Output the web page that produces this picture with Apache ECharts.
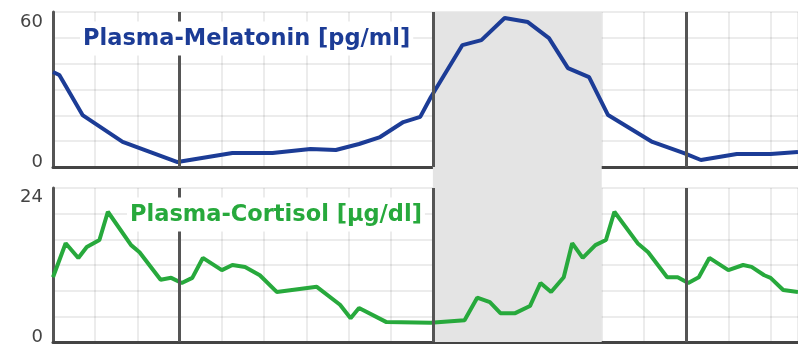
<!DOCTYPE html>
<html>
<head>
<meta charset="utf-8">
<style>html,body{margin:0;padding:0;background:#fff;}#c{width:798px;height:348px;}</style>
<script src="https://cdn.jsdelivr.net/npm/echarts@6/dist/echarts.min.js"></script>
</head>
<body>
<div id="c"></div>
<script>
// ---- data ----
const melTitle = 'Plasma-Melatonin [pg/ml]';
const corTitle = 'Plasma-Cortisol [µg/dl]';
// hours from start of chart
const melHours = [0, 0.3, 1.4, 3.3, 5.9, 8.5, 10.4, 12.2, 13.4, 14.5, 15.5, 16.6, 17.4, 17.9, 19.4, 20.3, 21.4, 22.5, 23.5, 24.4, 25.4, 26.3, 28.4, 29.9, 30.7, 32.4, 34.0, 35.3];
const melValues = [36.8, 35.6, 20.1, 9.7, 1.9, 5.4, 5.4, 7.0, 6.6, 8.9, 11.6, 17.4, 19.4, 27, 47.2, 49.1, 57.7, 56.1, 49.9, 38.3, 34.8, 20.1, 9.7, 5.4, 2.7, 5.0, 5.0, 5.8];
const corHours = [0, 0.6, 1.2, 1.6, 2.2, 2.6, 3.7, 4.1, 5.1, 5.6, 6.1, 6.6, 7.1, 8.0, 8.5, 9.1, 9.8, 10.6, 12.5, 13.6, 14.1, 14.5, 15.8, 17.9, 19.5, 20.1, 20.7, 21.2, 21.9, 22.6, 23.1, 23.6, 24.2, 24.6, 25.1, 25.7, 26.2, 26.6, 27.7, 28.2, 29.1, 29.6, 30.1, 30.6, 31.1, 32.0, 32.7, 33.1, 33.7, 34.0, 34.6, 35.3];
const corValues = [10.1, 15.4, 13.1, 14.8, 15.9, 20.3, 15.1, 14.0, 9.7, 10.0, 9.2, 10.0, 13.1, 11.2, 12.0, 11.7, 10.4, 7.8, 8.6, 5.8, 3.7, 5.3, 3.1, 3.0, 3.4, 6.9, 6.2, 4.5, 4.5, 5.6, 9.2, 7.8, 10.1, 15.4, 13.1, 15.1, 15.9, 20.3, 15.4, 14.0, 10.1, 10.1, 9.2, 10.1, 13.1, 11.2, 12.0, 11.7, 10.4, 10.0, 8.1, 7.8];
const dayMarks = [6, 18, 30];      // thick vertical lines (hours)
const sleepPeriod = [18, 26];      // shaded band (hours)
const melTicks = [0, 60];
const corTicks = [0, 24];
const xMax = 35.3;

const pair = (xs, ys) => xs.map((x, i) => [x, ys[i]]);

const BLUE = '#1c3c96', GREEN = '#27a93c';
const gridLine = { show: true, lineStyle: { color: 'rgba(0,0,0,0.075)', width: 2 } };

function xAx(gi, showLine) {
  return {
    type: 'value', gridIndex: gi, min: 0, max: xMax, interval: 2,
    axisLine: { show: showLine, onZero: false, lineStyle: { color: '#444', width: 3 } },
    axisTick: { show: false }, axisLabel: { show: false },
    splitLine: showLine ? gridLine : { show: false }
  };
}
function yAx(gi, max, interval, ticks, topPad, show) {
  return {
    type: 'value', gridIndex: gi, min: 0, max: max, interval: interval, show: show,
    axisLine: { show: true, lineStyle: { color: '#555', width: 3 } },
    axisTick: { show: false },
    axisLabel: {
      margin: 10, color: '#444', fontFamily: 'DejaVu Sans', fontSize: 18,
      formatter: v => v === ticks[1] ? '{t|' + v + '}' : (v === ticks[0] ? '{b|' + v + '}' : ''),
      rich: {
        t: { padding: [topPad, 0, 0, 0], fontFamily: 'DejaVu Sans', fontSize: 18, color: '#444' },
        b: { padding: [0, 0, 10, 0], fontFamily: 'DejaVu Sans', fontSize: 18, color: '#444' }
      }
    },
    splitLine: gridLine
  };
}
const thick = gi => ({
  silent: true, symbol: 'none', label: { show: false },
  lineStyle: { color: '#555', width: 3, type: 'solid' },
  data: dayMarks.map(h => ({ xAxis: h }))
});

const option = {
  animation: false,
  backgroundColor: '#fff',
  title: [
    { text: melTitle, left: 80, top: 22, padding: [6, 3, 5, 3], backgroundColor: '#fff',
      textStyle: { color: BLUE, fontFamily: 'DejaVu Sans', fontWeight: 'bold', fontSize: 22.5, lineHeight: 22 } },
    { text: corTitle, left: 127, top: 198, padding: [6, 3, 5, 3], backgroundColor: '#fff',
      textStyle: { color: GREEN, fontFamily: 'DejaVu Sans', fontWeight: 'bold', fontSize: 22.5, lineHeight: 22 } }
  ],
  grid: [
    { left: 53, right: 0, top: 12, height: 155 },
    { left: 53, right: 0, top: 188, height: 154 },
    { left: 53, right: 0, top: 12, bottom: 6 }
  ],
  xAxis: [xAx(0, true), xAx(1, true), xAx(2, false)],
  yAxis: [yAx(0, 60, 10, melTicks, 20, true), yAx(1, 24, 4, corTicks, 18, true),
          { type: 'value', gridIndex: 2, min: 0, max: 1, show: false, splitLine: { show: false } }],
  series: [
    { type: 'line', xAxisIndex: 2, yAxisIndex: 2, z: -1, silent: true, symbol: 'none',
      lineStyle: { opacity: 0 }, data: [[0, 0], [xMax, 0]],
      markArea: { silent: true, itemStyle: { color: '#e4e4e4' },
        data: [[{ xAxis: sleepPeriod[0] }, { xAxis: sleepPeriod[1] }]] } },
    { type: 'line', xAxisIndex: 0, yAxisIndex: 0, symbol: 'none', smooth: false,
      lineStyle: { color: BLUE, width: 4 }, data: pair(melHours, melValues), markLine: thick(0), z: 3 },
    { type: 'line', xAxisIndex: 1, yAxisIndex: 1, symbol: 'none', smooth: false,
      lineStyle: { color: GREEN, width: 4 }, data: pair(corHours, corValues), markLine: thick(1), z: 3 }
  ]
};
const chart = echarts.init(document.getElementById('c'), null, { renderer: 'canvas' });
chart.setOption(option);
</script>
</body>
</html>
